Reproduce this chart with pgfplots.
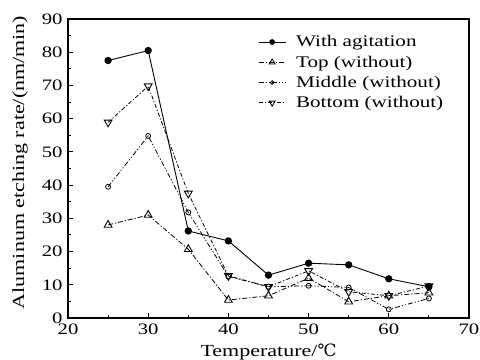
\documentclass[border=0pt]{standalone}
\usepackage{fontspec}
\setmainfont{Liberation Serif}[FakeStretch=1.3]
\newfontfamily\dejavu{DejaVu Serif}
\usepackage{pgfplots}
\pgfplotsset{compat=1.18}
\begin{document}
\begin{tikzpicture}
\useasboundingbox (-68bp,-42bp) rectangle (412bp,318bp);
\begin{axis}[
  at={(0,0)}, anchor=south west,
  scale only axis, width=401bp, height=299bp,
  xmin=20, xmax=70, ymin=0, ymax=90,
  xtick={20,30,...,70}, ytick={0,10,...,90},
  minor x tick num=1, minor y tick num=1,
  tick align=inside, xtick pos=bottom, ytick pos=left,
  major tick length=5bp, minor tick length=3bp,
  axis line style={line width=1.1pt},
  every tick/.style={black, line width=0.9pt},
  /pgf/number format/assume math mode=true,
  tick label style={font=\fontsize{16}{18}\selectfont},
  xticklabel style={yshift=-2.5bp},
  yticklabel style={xshift=-2bp},
  label style={font=\fontsize{17}{18}\selectfont},
  xlabel={Temperature/{\dejavu ℃}},
  ylabel={Aluminum etching rate/(nm/min)},
  xlabel style={at={(axis description cs:0.5,-0.1304)}, anchor=base},
  ylabel style={at={(axis description cs:-0.1197,0.52)}, anchor=center},
  legend style={draw=none, fill=none, at={(axis description cs:0.4738,0.945)}, anchor=north west,
    font=\fontsize{16.3}{18}\selectfont, row sep=7.5bp, column sep=0pt, inner sep=0pt,
    nodes={inner sep=0pt}},
  legend cell align=left,
  legend image code/.code={\draw[mark repeat=2,mark phase=2,#1, every mark/.append style={scale=0.75}] plot coordinates {(0bp,0bp) (13.5bp,0bp) (27bp,0bp)}; \path (37bp,0bp);},
]
\addplot[black, line width=0.9pt, mark=*, mark size=3.2pt] coordinates {
(25,77.5) (30,80.5) (35,26.2) (40,23.2) (45,12.9) (50,16.5) (55,16) (60,11.8) (65,9.4)};
\addlegendentry{With agitation}
\addplot[black, line width=0.8pt, dash pattern=on 5pt off 2pt on 1.2pt off 2pt, mark=triangle, mark size=4.5pt, mark options={solid, line width=0.9pt}] coordinates {
(25,28) (30,31) (35,20.7) (40,5.4) (45,6.7) (50,12) (55,4.9) (60,6.7) (65,7.6)};
\addlegendentry{Top (without)}
\addplot[black, line width=0.8pt, dash pattern=on 5pt off 2pt on 1.2pt off 2pt on 1.2pt off 2pt, mark=o, mark size=2.5pt, mark options={solid, line width=0.8pt}] coordinates {
(25,39.5) (30,54.8) (35,31.8) (40,12.5) (45,9.4) (50,9.7) (55,9.2) (60,2.6) (65,5.9)};
\addlegendentry{Middle (without)}
\addplot[black, line width=0.8pt, dash pattern=on 4pt off 2pt on 1.2pt off 2pt, mark=triangle, mark size=4.5pt, mark options={solid, line width=0.9pt, rotate=180}] coordinates {
(25,58.9) (30,69.8) (35,37.5) (40,12.7) (45,9.4) (50,14.2) (55,7.9) (60,6.7) (65,9.6)};
\addlegendentry{Bottom (without)}
\end{axis}
\end{tikzpicture}
\end{document}
